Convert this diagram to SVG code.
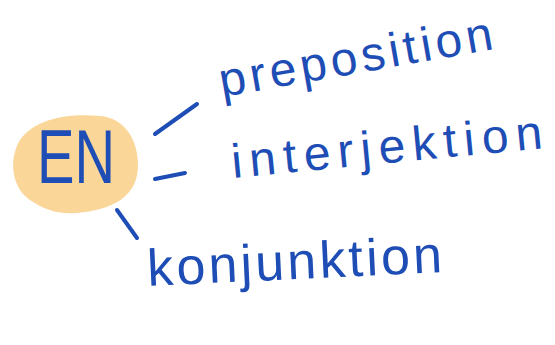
<svg xmlns="http://www.w3.org/2000/svg" width="555" height="345" viewBox="0 0 555 345">
<style>
.ink{fill:#1d4db5;font-family:"Liberation Sans",Arial,sans-serif;}
.ln{stroke:#1d4db5;stroke-width:4;stroke-linecap:round;fill:none;}
</style>
<rect width="555" height="345" fill="#ffffff"/>
<g id="node-en">
<path d="M 20,140 C 35,118 70,113 100,116 C 125,118 138,140 138,165 C 138,195 115,208 85,212 C 60,216 45,210 30,200 C 12,188 8,160 20,140 Z" fill="#fad699"/>
<text class="ink" x="37" y="183" font-size="76" textLength="78" lengthAdjust="spacingAndGlyphs">EN</text>
</g>
<g id="connectors">
<line class="ln" x1="155" y1="134" x2="197" y2="104"/>
<line class="ln" x1="155" y1="179" x2="185" y2="173"/>
<line class="ln" x1="117" y1="210" x2="137" y2="238"/>
</g>
<g id="node-preposition">
<text class="ink" transform="translate(222,97) rotate(-10)" font-size="48" textLength="277" lengthAdjust="spacing">preposition</text>
</g>
<g id="node-interjektion">
<text class="ink" transform="translate(233,178) rotate(-5.5)" font-size="48" textLength="312" lengthAdjust="spacing">interjektion</text>
</g>
<g id="node-konjunktion">
<text class="ink" transform="translate(148,286) rotate(-2.7)" font-size="52" textLength="295" lengthAdjust="spacing">konjunktion</text>
</g>
</svg>
